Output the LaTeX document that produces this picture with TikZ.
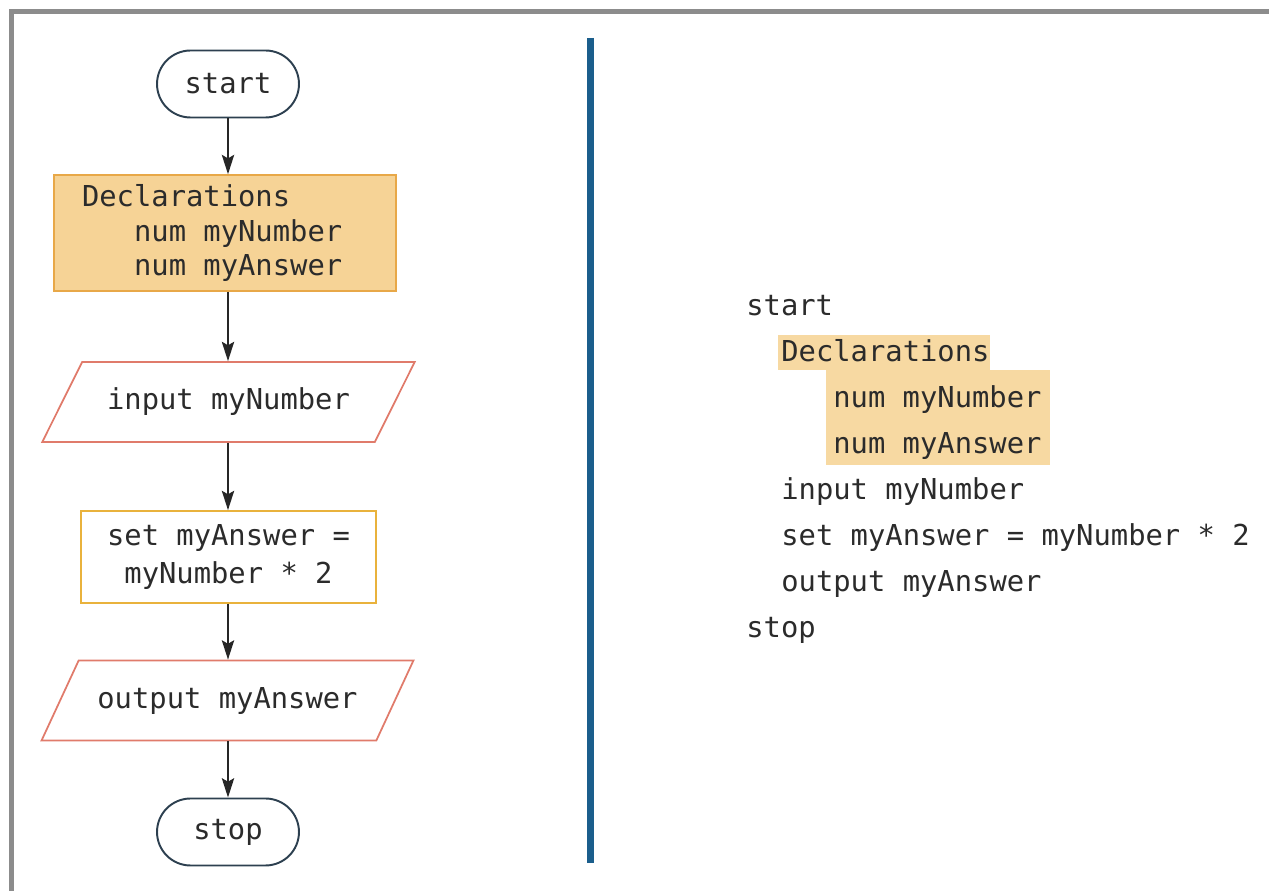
\documentclass[tikz,border=0pt]{standalone}
\usepackage{fontspec}
\setmonofont{DejaVu Sans Mono}
\usepackage{tikz}
\usetikzlibrary{shapes.geometric,arrows.meta}
\definecolor{framegray}{HTML}{8C8C8C}
\definecolor{barblue}{HTML}{1B5E8C}
\definecolor{declfill}{HTML}{F6D396}
\definecolor{declline}{HTML}{E8A848}
\definecolor{setline}{HTML}{E9B23C}
\definecolor{ioline}{HTML}{E07B6B}
\definecolor{termline}{HTML}{2D4050}
\definecolor{hlfill}{HTML}{F7D9A2}
\definecolor{codegray}{HTML}{2B2B2B}
\newcommand{\indt}{\phantom{num}}

\begin{document}
\begin{tikzpicture}[x=0.02cm,y=-0.02cm,
  font=\ttfamily\fontsize{16.4}{19.4}\selectfont, text=codegray,
  term/.style={draw=termline,line width=1.1pt,rounded corners=0.67cm,minimum width=2.84cm,minimum height=1.34cm},
  declbox/.style={draw=declline,fill=declfill,line width=0.9pt,minimum height=2.32cm,text width=5.72cm,inner xsep=0.56cm,align=left},
  iobox/.style={draw=ioline,line width=1pt,trapezium,trapezium left angle=48.8,trapezium right angle=131.2,trapezium stretches=true,minimum width=7.46cm,minimum height=1.6cm},
  setbox/.style={draw=setline,line width=1pt,minimum width=5.9cm,minimum height=1.84cm,align=center,font=\ttfamily\fontsize{16.4}{21.6}\selectfont},
  flow/.style={line width=1.1pt,draw=black!85,-{Stealth[length=11pt,width=7pt,inset=2pt]}},
  code/.style={anchor=base west,inner sep=0pt}]
\useasboundingbox (0,0) rectangle (1269,891);
\draw[framegray,line width=2.7pt] (11.7,891) -- (11.7,11.7) -- (1269,11.7);
\draw[barblue,line width=0.14cm] (590,38) -- (590,863);

\node[term] (start) at (228,84) {start};
\node[declbox] (decl) at (225,233) {\spaceskip=0pt Declarations\\\indt num myNumber\\\indt num myAnswer};
\node[iobox] (inp) at (228.5,402) {input myNumber};
\node[setbox] (calc) at (228.5,557) {set myAnswer =\\myNumber * 2};
\node[iobox] (outp) at (227.5,700.5) {output myAnswer};
\node[term] (stop) at (228,832) {stop};
\draw[flow] (start) -- (start |- decl.north);
\draw[flow] (start |- decl.south) -- (start |- inp.north);
\draw[flow] (start |- inp.south) -- (start |- calc.north);
\draw[flow] (start |- calc.south) -- (start |- outp.north);
\draw[flow] (start |- outp.south) -- (stop);

\fill[hlfill] (778,335) rectangle (990,370);
\fill[hlfill] (826,370) rectangle (1050,465);
\node[code] (c1) at (746,316) {start};
\node[code] (c2) at (781,362) {Declarations};
\node[code] (c3) at (833,408) {num myNumber};
\node[code] (c4) at (833,454) {num myAnswer};
\node[code] (c5) at (781,500) {input myNumber};
\node[code] (c6) at (781,546) {set myAnswer = myNumber * 2};
\node[code] (c7) at (781,592) {output myAnswer};
\node[code] (c8) at (746,638) {stop};
\end{tikzpicture}
\end{document}
